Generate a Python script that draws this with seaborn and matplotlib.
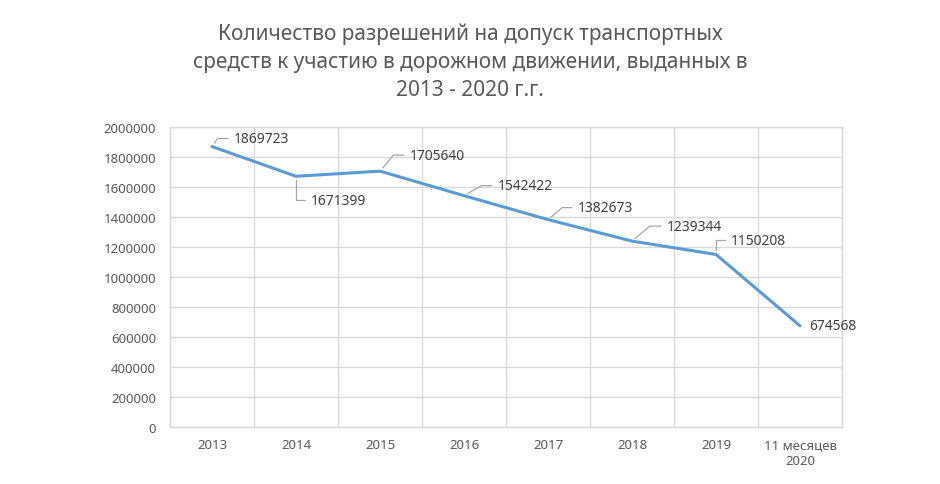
import numpy as np
import matplotlib
matplotlib.use('Agg')
import matplotlib.pyplot as plt
import seaborn as sns

# data
years = ['2013', '2014', '2015', '2016', '2017', '2018', '2019', '11 месяцев\n2020']
permits = [1869723, 1671399, 1705640, 1542422, 1382673, 1239344, 1150208, 674568]
# label offsets in pixels (dx, dy, leader angle at point or None)
label_offsets = [(22, 8, 55), (15, -24, 90), (30, 16, 50), (34, 10, 30),
                 (30, 12, 40), (35, 15, 40), (15, 14, 90), (9, 0, None)]

sns.set_theme(style='white')
plt.rcParams['font.family'] = ['Noto Sans', 'DejaVu Sans']

grey_txt = '#595959'
grid_c = '#d9d9d9'

fig = plt.figure(figsize=(9.4, 4.85), dpi=100)
ax = fig.add_axes([170/940, 57/485, 672/940, 300/485])

x = np.arange(len(years))
sns.lineplot(x=x, y=permits, ax=ax, color='#5b9bd5', linewidth=2.2)

ax.set_xlim(-0.5, len(years) - 0.5)
ax.set_ylim(0, 2000000)
ax.set_yticks(np.arange(0, 2000001, 200000))
ax.set_yticklabels([str(v) for v in range(0, 2000001, 200000)])
ax.set_xticks(x)
ax.set_xticklabels(years, ha='center', linespacing=1.3)
ax.set_xticks(np.arange(-0.5, len(years), 1), minor=True)
ax.grid(True, axis='y', color=grid_c, linewidth=1)
ax.grid(True, axis='x', which='minor', color=grid_c, linewidth=1)
ax.tick_params(axis='both', which='both', length=0, colors=grey_txt, labelsize=9.5)
ax.tick_params(axis='x', pad=8)
ax.tick_params(axis='y', pad=10)
for s in ax.spines.values():
    s.set_color(grid_c)
    s.set_linewidth(1)

for xi, val, (dx, dy, ang) in zip(x, permits, label_offsets):
    kw = {}
    if ang is not None:
        kw['arrowprops'] = dict(arrowstyle='-', color='#a6a6a6', lw=0.9,
                                shrinkA=2, shrinkB=3, relpos=(0, 0.5),
                                connectionstyle='angle,angleA=0,angleB=%d,rad=0' % ang)
    ax.annotate(str(val), xy=(xi, val), xytext=(dx, dy), textcoords='offset pixels',
                ha='left', va='center', fontsize=10, color='#404040', **kw)

fig.text(0.5, 1 - 62/485,
         'Количество разрешений на допуск транспортных\n'
         'средств к участию в дорожном движении, выданных в\n'
         '2013 - 2020 г.г.',
         ha='center', va='center', fontsize=15, color=grey_txt, linespacing=1.45)

fig.savefig('out.png', dpi=100)
